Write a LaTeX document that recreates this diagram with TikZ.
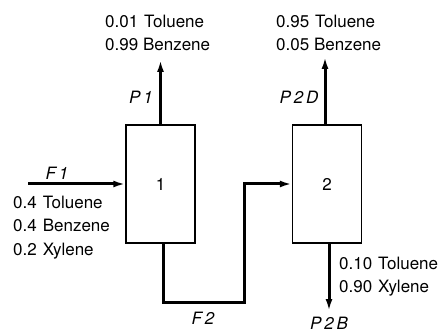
\documentclass[tikz,border=0pt]{standalone}
\usepackage{fontspec}
\setmainfont{TeX Gyre Heros}
\usetikzlibrary{arrows.meta}
\newcommand{\gp}{\hspace{0.35em}}
\begin{document}
\begin{tikzpicture}[x=1pt,y=-1pt,
  box/.style={draw, line width=1.4pt, minimum width=69pt, minimum height=118pt, inner sep=0pt, font=\fontsize{17}{20}\selectfont},
  stream/.style={line width=3pt, -{Latex[length=12pt,width=7pt]}},
  lbl/.style={inner sep=0pt, font=\fontsize{17}{20}\selectfont\itshape},
  comp/.style={align=left, inner sep=0pt, anchor=north west, font=\fontsize{17}{23.3}\selectfont}]
\useasboundingbox (0,0) rectangle (438,336);
\node[box] (b1) at (160.5,184) {1};
\node[box] (b2) at (327,184) {2};
\coordinate (f1s) at (28,184);
\coordinate (p1e) at (160.5,60);
\coordinate (p2de) at (325,57);
\coordinate (p2be) at (329,311);
\coordinate (c1) at (244,302);
\draw[stream] (f1s) -- (b1.west);
\draw[stream] (b1.north) -- (p1e);
\draw[stream] ([xshift=-2pt]b2.north) -- (p2de);
\draw[stream] ([xshift=2pt]b2.south) -- (p2be);
\draw[stream] ([xshift=2.5pt]b1.south) |- (c1) |- (b2.west);
\node[comp] (t1) at (105,15) {0.01\gp Toluene\\0.99 Benzene};
\node[comp] (t2) at (276,15) {0.95\gp Toluene\\0.05 Benzene};
\node[comp] (t3) at (13,196) {0.4\gp Toluene\\0.4\gp Benzene\\0.2\gp Xylene};
\node[comp] (t4) at (339,257) {0.10\gp Toluene\\0.90\gp Xylene};
\node[lbl] (lp1) at (141,97) {P\,1};
\node[lbl] (lp2d) at (299,97) {P\,2\,D};
\node[lbl] (lf1) at (57,173) {F\,1};
\node[lbl] (lf2) at (203,318) {F\,2};
\node[lbl] (lp2b) at (329,323) {P\,2\,B};
\end{tikzpicture}
\end{document}
